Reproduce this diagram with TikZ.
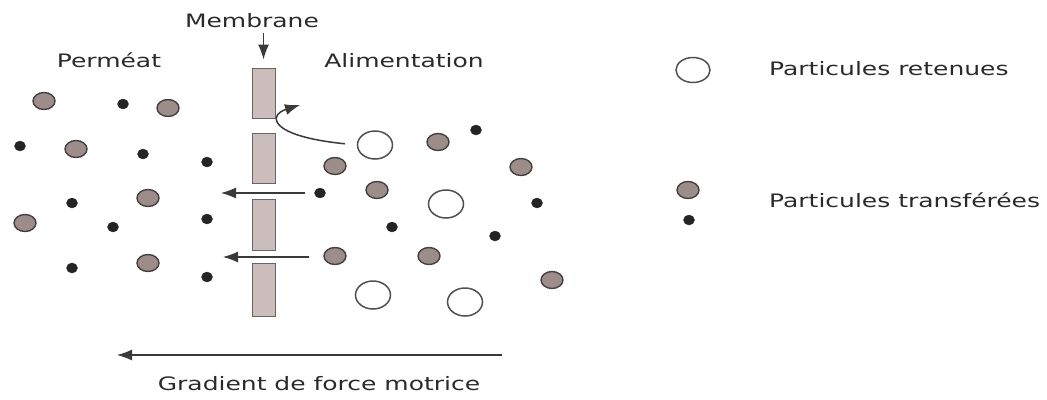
\documentclass[tikz,border=0pt]{standalone}
\usepackage{fontspec}
\setmainfont{DejaVu Sans}[FakeStretch=1.35]
\usetikzlibrary{shapes.geometric,arrows.meta}
\definecolor{txt}{HTML}{2A2A2A}
\definecolor{grayfill}{HTML}{9C8C8A}
\definecolor{grayedge}{HTML}{444040}
\definecolor{memfill}{HTML}{CBBDBC}
\definecolor{memedge}{HTML}{6A6464}
\definecolor{dotfill}{HTML}{242424}
\definecolor{openedge}{HTML}{505050}
\definecolor{arr}{HTML}{3A3A3A}
\tikzset{
  lbl/.style={inner sep=0pt, text=txt, font=\fontsize{18.5}{20}\selectfont},
  bigp/.style={ellipse, draw=grayedge, fill=grayfill, line width=1.4pt, minimum width=22pt, minimum height=17pt, inner sep=0pt},
  smallp/.style={ellipse, draw=dotfill, fill=dotfill, minimum width=11pt, minimum height=10pt, inner sep=0pt},
  openp/.style={ellipse, draw=openedge, fill=white, line width=1.5pt, minimum width=35pt, minimum height=28pt, inner sep=0pt},
  memrect/.style={rectangle, draw=memedge, fill=memfill, line width=1pt, minimum width=23pt, inner sep=0pt},
  flow/.style={draw=arr, line width=1.1pt, -{Latex[length=15pt,width=11pt]}},
}
\begin{document}
\begin{tikzpicture}[x=1pt,y=-1pt]
\useasboundingbox (0,0) rectangle (1047,399);
% labels
\node[lbl, anchor=base] (membrane) at (252,27) {Membrane};
\node[lbl, anchor=base] (permeat) at (109,67) {Perméat};
\node[lbl, anchor=base] (alim) at (404,67) {Alimentation};
\node[lbl, anchor=base west] (leg1) at (769,75) {Particules retenues};
\node[lbl, anchor=base west] (leg2) at (769,207) {Particules transférées};
\node[lbl, anchor=base] (grad) at (319,390) {Gradient de force motrice};
% membrane
\node[memrect, minimum height=50pt] (m1) at (263.5,93) {};
\node[memrect, minimum height=50pt] (m2) at (263.5,158) {};
\node[memrect, minimum height=51pt] (m3) at (263.5,224.5) {};
\node[memrect, minimum height=53pt] (m4) at (263.5,289.5) {};
\draw[flow, line width=1.3pt, shorten <=6pt, shorten >=8pt] (membrane.south -| m1.north) -- (m1.north);
% left (permeate) particles
\node[bigp] (l1) at (44,101) {};
\node[smallp] (l2) at (123,104) {};
\node[bigp] (l3) at (168,108) {};
\node[smallp] (l4) at (20,146) {};
\node[bigp] (l5) at (76,149) {};
\node[smallp] (l6) at (143,154) {};
\node[smallp] (l7) at (207,162) {};
\node[bigp] (l8) at (148,198) {};
\node[smallp] (l9) at (72,203) {};
\node[bigp] (l10) at (25,223) {};
\node[smallp] (l11) at (113,227) {};
\node[smallp] (l12) at (207,219) {};
\node[smallp] (l13) at (72,268) {};
\node[bigp] (l14) at (148,263) {};
\node[smallp] (l15) at (207,277) {};
% right (feed) particles
\node[openp] (r1) at (375,145) {};
\node[bigp] (r2) at (438,142) {};
\node[smallp] (r3) at (476,130) {};
\node[bigp] (r4) at (335,166) {};
\node[bigp] (r5) at (521,167) {};
\node[bigp] (r6) at (377,190) {};
\node[smallp] (r7) at (320,193) {};
\node[openp] (r8) at (446,204) {};
\node[smallp] (r9) at (537,203) {};
\node[smallp] (r10) at (392,227) {};
\node[smallp] (r11) at (495,236) {};
\node[bigp] (r12) at (335,256) {};
\node[bigp] (r13) at (429,256) {};
\node[bigp] (r14) at (552,280) {};
\node[openp] (r15) at (373,295) {};
\node[openp] (r16) at (465,302) {};
% arrows through membrane
\coordinate (t1) at (221,193);
\coordinate (t2) at (223,257);
\draw[flow, shorten <=9pt] (r7.west) -- (t1);
\draw[flow, shorten <=14pt] (r12.west |- t2) -- (t2);
% rejected particle curve
\coordinate (c1) at (300,105);
\draw[flow, line width=1.5pt, shorten <=12pt] (r1.west) .. controls (268,136) and (268,115) .. (c1);
% driving force
\coordinate (g1) at (502,355);
\coordinate (g2) at (117,355);
\draw[flow] (g1) -- (g2);
% legend
\node[openp, minimum width=34pt, minimum height=25pt] (k1) at (693,70) {};
\node[bigp] (k2) at (688,190) {};
\node[smallp] (k3) at (689,220) {};
\end{tikzpicture}
\end{document}
